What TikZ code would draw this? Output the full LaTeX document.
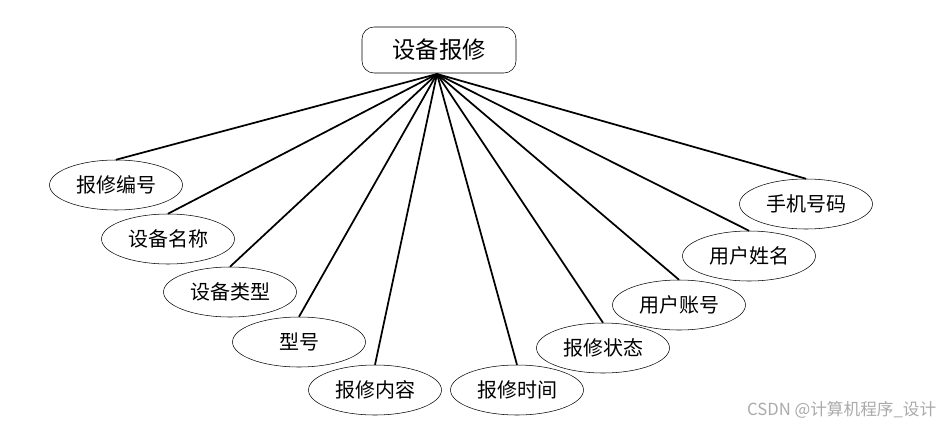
\documentclass[tikz,border=0pt]{standalone}
\usepackage{fontspec}
\usepackage{tikz}
\usetikzlibrary{shapes.geometric}
\newfontfamily\cjk{Noto Sans CJK SC}
\definecolor{wmgray}{RGB}{170,170,170}

\begin{document}
\begin{tikzpicture}[x=0.75pt, y=-0.75pt, every node/.style={font=\cjk},
  entbox/.style={draw, rounded corners=9pt, minimum width=115.5pt, minimum height=34.5pt, inner sep=0pt, font=\cjk\fontsize{17.5}{20}\selectfont},
  attr/.style={draw, ellipse, thin, minimum width=99.75pt, minimum height=37.5pt, inner sep=0pt, font=\cjk\fontsize{15}{17}\selectfont},
  link/.style={line width=1.3pt}]
\useasboundingbox (0,0) rectangle (946,425);
% entity
\node[entbox] (repair) at (439,50) {设备报修};
\coordinate (apex) at (437,74);
% attributes
\node[attr] (rid)    at (116,185) {报修编号};
\node[attr] (dname)  at (168,239) {设备名称};
\node[attr] (dtype)  at (230,292) {设备类型};
\node[attr] (model)  at (299,342) {型号};
\node[attr] (rtext)  at (375,390) {报修内容};
\node[attr] (rtime)  at (517,390) {报修时间};
\node[attr] (rstate) at (603,348) {报修状态};
\node[attr] (uacc)   at (679,305) {用户账号};
\node[attr] (uname)  at (749,256) {用户姓名};
\node[attr] (phone)  at (806,204) {手机号码};
\foreach \a in {rid,dname,dtype,model,rtext,rtime,rstate,uacc,uname,phone}
  \draw[link] (apex) -- (\a.north);
% watermark
\node[text=wmgray, font=\cjk\fontsize{12.5}{14}\selectfont, anchor=east] (mark) at (941,410) {CSDN @计算机程序\_设计};
\end{tikzpicture}
\end{document}
